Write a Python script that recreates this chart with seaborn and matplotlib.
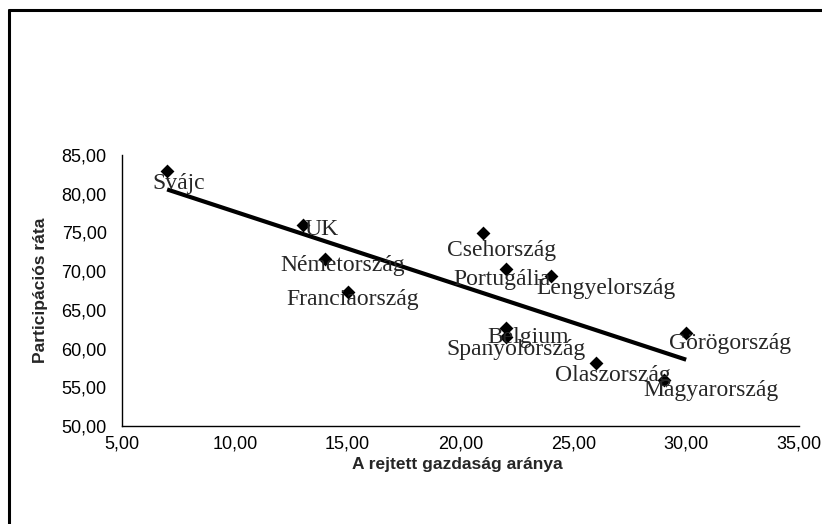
import matplotlib
matplotlib.use("Agg")
import matplotlib.pyplot as plt
from matplotlib.lines import Line2D
from matplotlib.ticker import FuncFormatter, MultipleLocator
import seaborn as sns
import pandas as pd

countries = ["Svájc", "UK", "Németország", "Franciaország", "Csehország", "Portugália",
             "Lengyelország", "Belgium", "Spanyolország", "Olaszország", "Görögország",
             "Magyarország"]
hidden_economy = [7, 13, 14, 15, 21, 22, 24, 22, 22, 26, 30, 29]
participation = [82.9, 76.0, 71.6, 67.3, 74.9, 70.3, 69.4, 62.6, 61.5, 58.2, 62.0, 56.0]

# label placement, pixels relative to the marker
label_dx = [12, 19, 18, 5, 18, -4, 55, 22, 10, 17, 44, 47]
label_dy = [-12, -5, -7, -7, -17, -11, -13, -9, -13, -13, -10, -11]

df = pd.DataFrame({"x": hidden_economy, "y": participation, "orszag": countries})

sns.set_style("white")
plt.rcParams["font.family"] = ["Liberation Sans", "DejaVu Sans"]

fig = plt.figure(figsize=(8.22, 5.24), dpi=100)
ax = fig.add_axes([122 / 822, 1 - 426 / 524, 677 / 822, 271 / 524])

sns.regplot(data=df, x="x", y="y", scatter=False, ci=None, color="black",
            line_kws={"lw": 3, "solid_capstyle": "butt"}, ax=ax)
sns.scatterplot(data=df, x="x", y="y", marker="D", s=50, color="black",
                edgecolor="black", linewidth=0, ax=ax, zorder=3)

for name, x, y, dx, dy in zip(countries, hidden_economy, participation, label_dx, label_dy):
    ax.annotate(name, (x, y), xytext=(dx, dy), textcoords="offset pixels",
                ha="center", va="center", family=["Liberation Serif", "DejaVu Serif"],
                fontsize=17, zorder=4)

ax.set_xlim(5, 35)
ax.set_ylim(50, 85)
ax.xaxis.set_major_locator(MultipleLocator(5))
ax.yaxis.set_major_locator(MultipleLocator(5))
fmt = FuncFormatter(lambda v, p: f"{v:.2f}".replace(".", ","))
ax.xaxis.set_major_formatter(fmt)
ax.yaxis.set_major_formatter(fmt)

for side in ["top", "right"]:
    ax.spines[side].set_visible(False)
for side in ["left", "bottom"]:
    ax.spines[side].set_color("black")
    ax.spines[side].set_linewidth(1)

ax.tick_params(axis="x", direction="inout", length=12, width=1, colors="black",
               labelsize=13, pad=1)
ax.tick_params(axis="y", direction="out", length=7, width=1, colors="black",
               labelsize=13, pad=4)

ax.set_xlabel("A rejtett gazdaság aránya", fontsize=12.5, fontweight="bold")
ax.set_ylabel("Participációs ráta", fontsize=12.5, fontweight="bold")
ax.xaxis.set_label_coords(0.496, -0.115)
ax.yaxis.set_label_coords(-0.109, 0.5)

# outer chart frame (only top and left edges fall inside the picture)
fig.add_artist(Line2D([8.5 / 822, 1], [1 - 9.5 / 524, 1 - 9.5 / 524],
                      transform=fig.transFigure, color="black", lw=2.2))
fig.add_artist(Line2D([8.5 / 822, 8.5 / 822], [0, 1 - 9.5 / 524],
                      transform=fig.transFigure, color="black", lw=2.2))

fig.savefig("out.png", dpi=100)
